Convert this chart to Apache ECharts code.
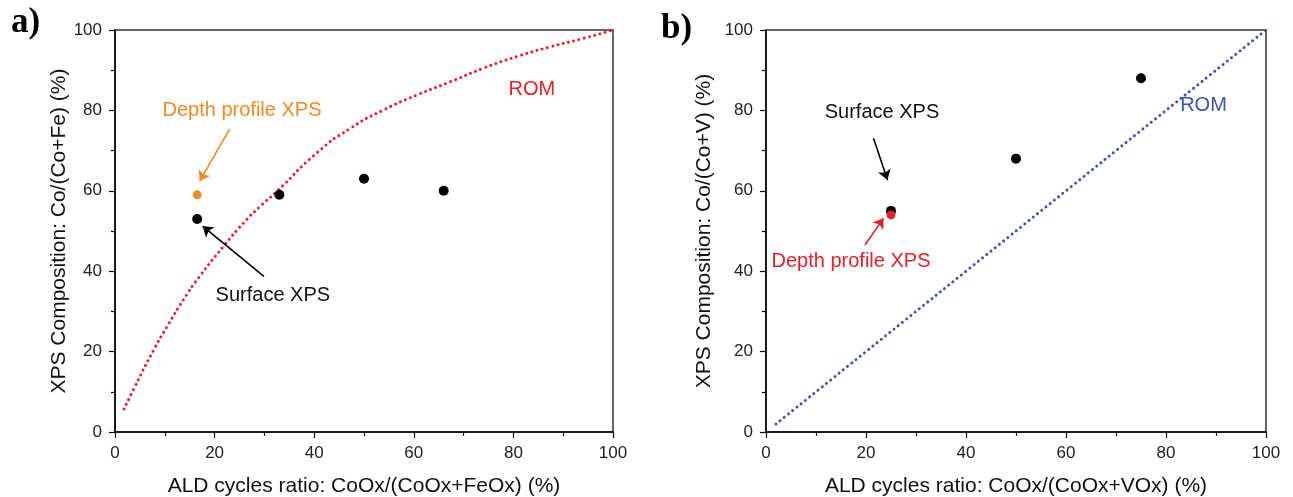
<!DOCTYPE html>
<html>
<head>
<meta charset="utf-8">
<script src="https://cdn.jsdelivr.net/npm/echarts@6/dist/echarts.min.js"></script>
<style>
  html, body { margin: 0; padding: 0; background: #fff; }
  #chart { width: 1293px; height: 497px; }
</style>
</head>
<body>
<div id="chart"></div>
<script>
// Panel a) Co-Fe: measured compositions vs ALD cycle ratio
const feCycles = [16.5, 33, 50, 66];
const feSurface = [53, 59, 63, 60];
const feDepthX = [16.5];
const feDepthY = [59];
// Rule-of-mixtures curve for Co-Fe
const romFeX = [1.8, 3.8, 7.8, 10.5, 13.8, 16.8, 21.8, 25.8, 29.2, 32.2, 40.6, 47.2, 53.9, 60.6, 67.3, 74, 80.7, 87.4, 94, 100];
const romFeY = [5.7, 10.8, 20.5, 26.3, 33.0, 38.4, 46.2, 52.0, 56.2, 59.5, 69.5, 75.5, 80.1, 83.8, 87.1, 90.5, 93.4, 95.8, 97.9, 100];

// Panel b) Co-V
const vCycles = [25, 50, 75];
const vSurface = [55, 68, 88];
const vDepthX = [25];
const vDepthY = [54];
const romVX = [2, 100];
const romVY = [2, 100];

const tickValues = [0, 20, 40, 60, 80, 100];

const FONT = 'Liberation Sans, Arial, sans-serif';
const BLACK = '#000';
const ORANGE = '#f08a24';
const RED = '#e3202b';
const BLUE = '#3b58a8';

const zip = (xs, ys) => xs.map((x, i) => [x, ys[i]]);

function xAxis(idx, name, gap) {
  return {
    gridIndex: idx, type: 'value', min: 0, max: 100, interval: 20,
    name: name, nameLocation: 'middle', nameGap: gap,
    nameTextStyle: { fontFamily: FONT, fontSize: 21, color: '#111' },
    axisLine: { show: true, onZero: false, lineStyle: { color: BLACK, width: 1.5 } },
    axisTick: { show: true, length: 6, lineStyle: { color: BLACK, width: 1.2 } },
    minorTick: { show: true, splitNumber: 2, length: 4, lineStyle: { color: BLACK, width: 1.2 } },
    axisLabel: { fontFamily: FONT, fontSize: 17, color: '#222', margin: 13,
                 formatter: v => tickValues.includes(v) ? String(v) : '' },
    splitLine: { show: false }
  };
}
function yAxis(idx, name, gap) {
  return {
    gridIndex: idx, type: 'value', min: 0, max: 100, interval: 20,
    name: name, nameLocation: 'middle', nameGap: gap,
    nameTextStyle: { fontFamily: FONT, fontSize: 21, color: '#111' },
    axisLine: { show: true, onZero: false, lineStyle: { color: BLACK, width: 1.5 } },
    axisTick: { show: true, length: 6, lineStyle: { color: BLACK, width: 1.2 } },
    minorTick: { show: true, splitNumber: 2, length: 4, lineStyle: { color: BLACK, width: 1.2 } },
    axisLabel: { fontFamily: FONT, fontSize: 17, color: '#222', margin: 13 },
    splitLine: { show: false }
  };
}

function dots(idx, xs, ys, color, size, z) {
  return { type: 'scatter', xAxisIndex: idx, yAxisIndex: idx, data: zip(xs, ys),
           symbol: 'circle', symbolSize: size, itemStyle: { color: color, opacity: 1 }, z: z, silent: true };
}
function rom(idx, xs, ys, color) {
  return { type: 'line', xAxisIndex: idx, yAxisIndex: idx, data: zip(xs, ys),
           smooth: 0.6, showSymbol: false, symbol: 'none', silent: true, z: 2,
           lineStyle: { color: color, width: 3, opacity: 1, type: [0.01, 5.4], cap: 'round' } };
}
function arrow(idx, from, to, color) {
  return { type: 'lines', coordinateSystem: 'cartesian2d', xAxisIndex: idx, yAxisIndex: idx,
           symbol: ['none', 'arrow'], symbolSize: 10, silent: true, z: 5,
           lineStyle: { color: color, width: 1.6, opacity: 1, curveness: 0 },
           data: [{ coords: [from, to] }] };
}
function note(idx, pos, text, color) {
  return { type: 'scatter', xAxisIndex: idx, yAxisIndex: idx, symbolSize: 0, silent: true, z: 6,
           itemStyle: { opacity: 1 },
           data: [{ value: pos, name: text }],
           label: { show: true, position: 'inside', formatter: '{b}', opacity: 1,
                    fontFamily: FONT, fontSize: 20, color: color } };
}

const chart = echarts.init(document.getElementById('chart'), null, { renderer: 'canvas' });
chart.setOption({
  animation: false,
  backgroundColor: '#fff',
  grid: [
    { left: 115, right: 680, top: 30, bottom: 65, outerBoundsMode: 'none', containLabel: false,
      show: true, borderColor: '#333', borderWidth: 1.5 },
    { left: 766, right: 27, top: 30, bottom: 65, outerBoundsMode: 'none', containLabel: false,
      show: true, borderColor: '#333', borderWidth: 1.5 }
  ],
  xAxis: [
    xAxis(0, 'ALD cycles ratio: CoOx/(CoOx+FeOx) (%)', 44),
    xAxis(1, 'ALD cycles ratio: CoOx/(CoOx+VOx) (%)', 44)
  ],
  yAxis: [
    yAxis(0, 'XPS Composition: Co/(Co+Fe) (%)', 44),
    yAxis(1, 'XPS Composition: Co/(Co+V) (%)', 51)
  ],
  graphic: [
    { type: 'text', left: 11, top: 5, style: { text: 'a)', font: 'bold 35px "Liberation Serif", "Times New Roman", serif', fill: '#000' } },
    { type: 'text', left: 661, top: 11, style: { text: 'b)', font: 'bold 35px "Liberation Serif", "Times New Roman", serif', fill: '#000' } }
  ],
  series: [
    rom(0, romFeX, romFeY, RED),
    dots(0, feCycles, feSurface, BLACK, 10, 3),
    dots(0, feDepthX, feDepthY, ORANGE, 9, 3),
    arrow(0, [23.0, 75.3], [17.0, 62.4], ORANGE),
    arrow(0, [29.9, 38.7], [17.6, 51.2], BLACK),
    note(0, [25.5, 80], 'Depth profile XPS', ORANGE),
    note(0, [83.7, 85.1], 'ROM', RED),
    note(0, [31.7, 34], 'Surface XPS', '#111'),

    rom(1, romVX, romVY, BLUE),
    dots(1, vCycles, vSurface, BLACK, 10, 3),
    dots(1, vDepthX, vDepthY, RED, 9, 4),
    arrow(1, [21.5, 73.1], [24.3, 62.7], BLACK),
    arrow(1, [19.8, 46.5], [23.5, 53.2], RED),
    note(1, [23.2, 79.4], 'Surface XPS', '#111'),
    note(1, [17, 42.5], 'Depth profile XPS', RED),
    note(1, [87.5, 81.3], 'ROM', BLUE)
  ]
});
</script>
</body>
</html>
